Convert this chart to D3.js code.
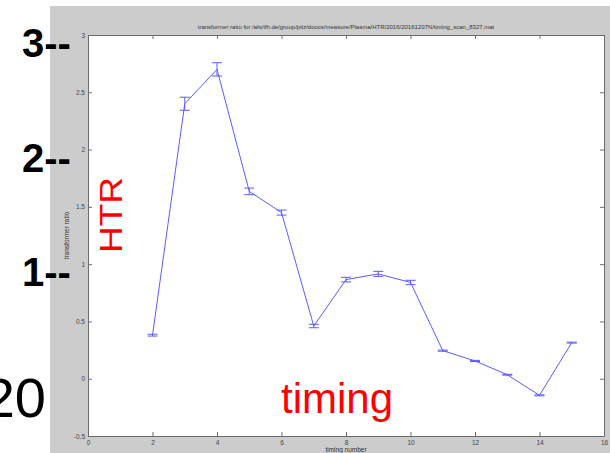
<!DOCTYPE html>
<html>
<head>
<meta charset="utf-8">
<script src="https://cdn.jsdelivr.net/npm/d3@7"></script>
<style>
  body { margin: 0; background: #fff; }
  svg { display: block; }
</style>
</head>
<body>
<svg id="svg" width="610" height="453"></svg>
<script>
// timing scan data
const timingNumbers = [2, 3, 4, 5, 6, 7, 8, 9, 10, 11, 12, 13, 14, 15];
const ratioValues = [0.38, 2.40, 2.70, 1.635, 1.45, 0.46, 0.865, 0.915, 0.84, 0.245, 0.155, 0.035, -0.145, 0.315];
const ratioErrors = [0.008, 0.057, 0.058, 0.029, 0.022, 0.015, 0.02, 0.022, 0.019, 0.005, 0.005, 0.004, 0.004, 0.004];
const xTicks = [0, 2, 4, 6, 8, 10, 12, 14, 16];
const yTicks = [-0.5, 0, 0.5, 1, 1.5, 2, 2.5, 3];
const sideLabels = ["3--", "2--", "1--"];
const sideValues = [3, 2, 1];

const titleText = "transformer ratio for /afs/ifh.de/group/pitz/doocs/measure/Plasma/HTR/2016/20161207N/timing_scan_8327.mat";

const svg = d3.select("#svg");

// figure background (matlab grey)
svg.append("rect")
  .attr("x", 50).attr("y", 6)
  .attr("width", 560).attr("height", 447)
  .attr("fill", "#cccccc");

const plot = { left: 88, right: 604, top: 35, bottom: 436 };

const x = d3.scaleLinear().domain([0, 16]).range([plot.left, plot.right]);
const y = d3.scaleLinear().domain([-0.5, 3]).range([plot.bottom, plot.top]);

// white axes area
svg.append("rect")
  .attr("x", plot.left).attr("y", plot.top)
  .attr("width", plot.right - plot.left).attr("height", plot.bottom - plot.top)
  .attr("fill", "#fff");

const tickFont = "Liberation Sans, Arial, sans-serif";

// axes, ticks pointing inward like matlab
const styleAxis = (g) => {
  g.select(".domain").attr("stroke", "#6a6a6a");
  g.selectAll(".tick line").attr("stroke", "#6a6a6a");
  g.selectAll(".tick text").attr("fill", "#444").style("font-size", "6.5px").style("font-family", tickFont);
};

svg.append("g")
  .attr("transform", "translate(0," + plot.bottom + ")")
  .call(d3.axisBottom(x).tickValues(xTicks).tickSize(-4).tickSizeOuter(0).tickPadding(4).tickFormat(d3.format("d")))
  .call(styleAxis);

svg.append("g")
  .attr("transform", "translate(0," + plot.top + ")")
  .call(d3.axisTop(x).tickValues(xTicks).tickSize(-4).tickSizeOuter(0).tickFormat(""))
  .call(styleAxis);

svg.append("g")
  .attr("transform", "translate(" + plot.left + ",0)")
  .call(d3.axisLeft(y).tickValues(yTicks).tickSize(-4).tickSizeOuter(0).tickPadding(3).tickFormat((d) => String(d)))
  .call(styleAxis);

svg.append("g")
  .attr("transform", "translate(" + plot.right + ",0)")
  .call(d3.axisRight(y).tickValues(yTicks).tickSize(-4).tickSizeOuter(0).tickFormat(""))
  .call(styleAxis);

// title and axis labels
svg.append("text")
  .attr("x", (plot.left + plot.right) / 2).attr("y", 29)
  .attr("text-anchor", "middle")
  .style("font-size", "6px").style("font-family", tickFont)
  .attr("fill", "#333")
  .text(titleText);

svg.append("text")
  .attr("x", (plot.left + plot.right) / 2).attr("y", 452)
  .attr("text-anchor", "middle")
  .style("font-size", "6.5px").style("font-family", tickFont)
  .attr("fill", "#333")
  .text("timing number");

svg.append("text")
  .attr("transform", "translate(69," + (plot.top + plot.bottom) / 2 + ") rotate(-90)")
  .attr("text-anchor", "middle")
  .style("font-size", "6.5px").style("font-family", tickFont)
  .attr("fill", "#333")
  .text("transformer ratio");

// the line through the points
const points = timingNumbers.map((t, i) => ({ t: t, v: ratioValues[i], e: ratioErrors[i] }));
const blue = "#5c5cff";

svg.append("path")
  .datum(points)
  .attr("fill", "none")
  .attr("stroke", blue)
  .attr("stroke-width", 1)
  .attr("d", d3.line().x((d) => x(d.t)).y((d) => y(d.v)));

// error bars
const bars = svg.selectAll(".err")
  .data(points)
  .join("g")
  .attr("class", "err")
  .attr("stroke", blue)
  .attr("stroke-width", 1);

bars.append("line")
  .attr("x1", (d) => x(d.t)).attr("x2", (d) => x(d.t))
  .attr("y1", (d) => y(d.v - d.e)).attr("y2", (d) => y(d.v + d.e));

bars.append("line")
  .attr("x1", (d) => x(d.t) - 5).attr("x2", (d) => x(d.t) + 5)
  .attr("y1", (d) => y(d.v - d.e)).attr("y2", (d) => y(d.v - d.e));

bars.append("line")
  .attr("x1", (d) => x(d.t) - 5).attr("x2", (d) => x(d.t) + 5)
  .attr("y1", (d) => y(d.v + d.e)).attr("y2", (d) => y(d.v + d.e));

// big annotations pasted over the figure
const bigFont = "Liberation Sans, Arial, sans-serif";

svg.selectAll(".side")
  .data(sideLabels)
  .join("text")
  .attr("class", "side")
  .attr("x", 22)
  .attr("y", (d, i) => y(sideValues[i]) + 22)
  .style("font-size", "40px").style("font-weight", "bold").style("font-family", bigFont)
  .attr("fill", "#000")
  .text((d) => d);

svg.append("text")
  .attr("x", 46).attr("y", 417)
  .attr("text-anchor", "end")
  .style("font-size", "56px").style("font-family", bigFont)
  .attr("fill", "#000")
  .text("20");

svg.append("text")
  .attr("transform", "translate(122,215) rotate(-90)")
  .attr("text-anchor", "middle")
  .attr("textLength", 76).attr("lengthAdjust", "spacingAndGlyphs")
  .style("font-size", "31px").style("font-family", bigFont)
  .attr("fill", "#ff0000")
  .text("HTR");

svg.append("text")
  .attr("x", 281).attr("y", 413)
  .style("font-size", "42px").style("font-family", bigFont)
  .attr("fill", "#ff0000")
  .text("timing");
</script>
</body>
</html>
